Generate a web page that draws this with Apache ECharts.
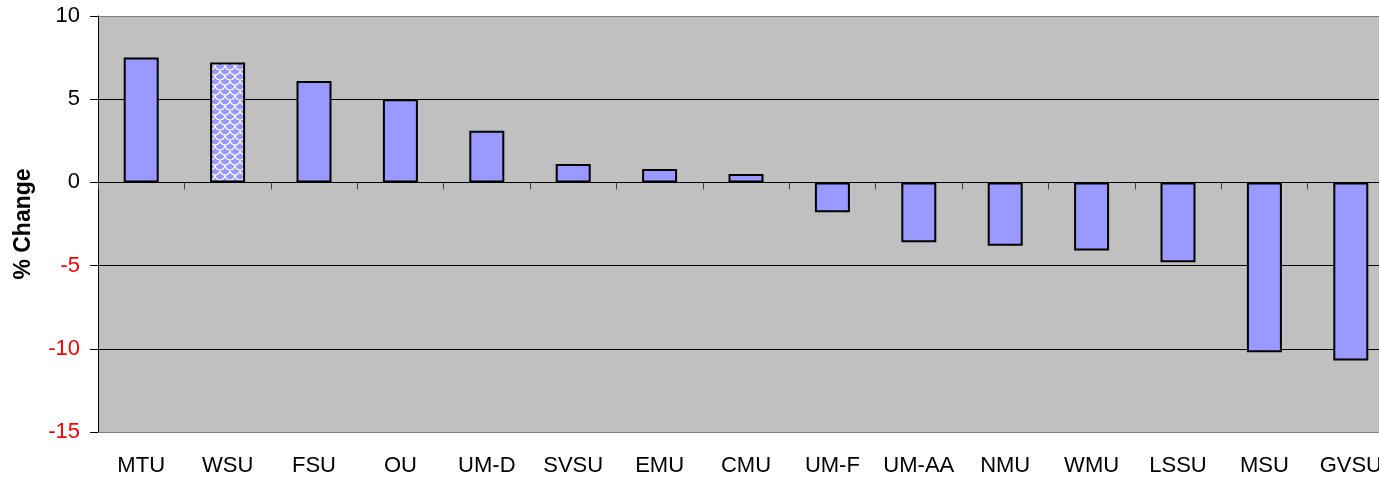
<!DOCTYPE html>
<html lang="en">
<head>
    <meta charset="UTF-8">
    <title>% Change by university</title>
    <script src="https://cdn.jsdelivr.net/npm/echarts@6/dist/echarts.min.js"></script>
    <style>
        html, body { margin: 0; padding: 0; background: #fff; overflow: hidden; }
        /* plot area runs past the right edge of the window, as in the original */
        #chart { width: 1394px; height: 479px; }
    </style>
</head>
<body>
<div id="chart"></div>
<script type="text/javascript">
    // data
    var schools = ['MTU', 'WSU', 'FSU', 'OU', 'UM-D', 'SVSU', 'EMU', 'CMU', 'UM-F', 'UM-AA', 'NMU', 'WMU', 'LSSU', 'MSU', 'GVSU'];
    var pctChange = [7.5, 7.2, 6.1, 5.0, 3.1, 1.1, 0.8, 0.5, -1.8, -3.6, -3.8, -4.1, -4.8, -10.2, -10.7];
    var highlighted = 'WSU';
    var yTicks = [-15, -10, -5, 0, 5, 10];

    // wavy white pattern for the highlighted bar
    function makePattern() {
        var s = 10;
        var c = document.createElement('canvas');
        c.width = s;
        c.height = s;
        var ctx = c.getContext('2d');
        ctx.fillStyle = '#9999FF';
        ctx.fillRect(0, 0, s, s);
        ctx.strokeStyle = '#ffffff';
        ctx.lineWidth = 1.2;
        ctx.beginPath();
        ctx.arc(s / 2, 0, s / 2, 0, Math.PI);
        ctx.stroke();
        ctx.beginPath();
        ctx.arc(0, s / 2, s / 2, 0, Math.PI);
        ctx.stroke();
        ctx.beginPath();
        ctx.arc(s, s / 2, s / 2, 0, Math.PI);
        ctx.stroke();
        return c;
    }

    var barData = schools.map(function (name, i) {
        var item = { value: pctChange[i] };
        if (name === highlighted) {
            item.itemStyle = { color: { image: makePattern(), repeat: 'repeat' } };
        }
        return item;
    });

    var chart = echarts.init(document.getElementById('chart'));
    var font = '"Liberation Sans", Arial, sans-serif';
    chart.setOption({
        animation: false,
        grid: {
            left: 98,
            top: 16,
            right: 0,
            height: 416,
            show: true,
            backgroundColor: '#C0C0C0',
            borderWidth: 0
        },
        xAxis: [{
            type: 'category',
            data: schools,
            position: 'bottom',
            axisLine: { onZero: false, lineStyle: { color: '#808080', width: 1 } },
            axisTick: { show: false },
            axisLabel: { color: '#000', fontSize: 22, fontFamily: font, margin: 23, interval: 0 },
            splitLine: { show: false }
        }, {
            type: 'category',
            data: schools,
            position: 'bottom',
            axisLine: { onZero: true, lineStyle: { color: '#000', width: 1 } },
            axisTick: { show: true, length: 7, lineStyle: { color: '#404040' } },
            axisLabel: { show: false },
            splitLine: { show: false }
        }],
        yAxis: {
            type: 'value',
            min: yTicks[0],
            max: yTicks[yTicks.length - 1],
            interval: 5,
            name: '% Change',
            nameLocation: 'middle',
            nameGap: 63,
            nameTextStyle: { fontSize: 23, fontWeight: 'bold', fontFamily: font, color: '#000' },
            axisLine: { show: true, lineStyle: { color: '#000', width: 1 } },
            axisTick: { show: true, length: 8, lineStyle: { color: '#000' } },
            axisLabel: {
                fontSize: 22,
                fontFamily: font,
                margin: 18,
                color: function (value) {
                    return value < 0 ? '#FF0000' : '#000000';
                }
            },
            splitLine: {
                show: true,
                lineStyle: { color: ['#808080', '#000', '#000', '#000', '#000', '#808080'], width: 1 }
            }
        },
        series: [{
            type: 'bar',
            data: barData,
            barWidth: 35,
            itemStyle: { color: '#9999FF', borderColor: '#000', borderWidth: 2 }
        }]
    });
</script>
</body>
</html>
